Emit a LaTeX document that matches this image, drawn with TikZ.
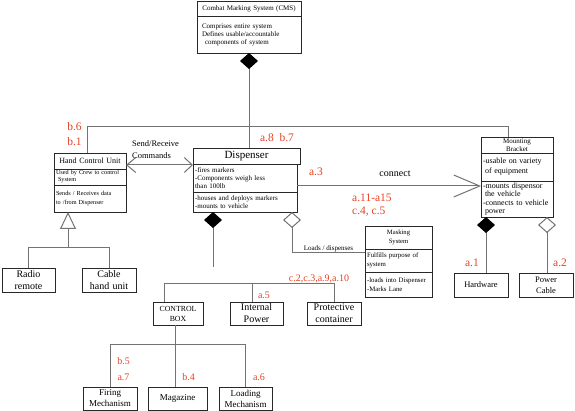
\documentclass[tikz,border=0pt]{standalone}
\usepackage{fontspec}
\setmainfont{Liberation Serif}
\usepackage{tikz}
\usetikzlibrary{shapes.geometric, positioning, arrows.meta}
\definecolor{UmlRed}{RGB}{228,66,36}
\definecolor{UmlLine}{RGB}{115,115,115}
\definecolor{UmlEdge}{RGB}{40,40,40}

\begin{document}
\begin{tikzpicture}[x=1pt, y=-1pt,
            hd/.style={rectangle, draw=UmlEdge, line width=0.9pt, anchor=north west,
                       inner xsep=2pt, inner ysep=0.5pt, outer sep=0pt, align=center,
                       font=\fontsize{7}{8}\selectfont},
            bd/.style={hd, line width=0.7pt, align=left},
            bx/.style={rectangle, draw=UmlEdge, line width=0.7pt, anchor=north west,
                       inner xsep=2pt, inner ysep=0.5pt, outer sep=0pt, align=center,
                       font=\fontsize{9}{11}\selectfont},
            ln/.style={draw=UmlLine, line width=1pt},
            lbl/.style={text=UmlRed, inner sep=0pt, font=\fontsize{11.5}{13}\selectfont},
            sml/.style={text=UmlRed, inner sep=0pt, font=\fontsize{10}{12}\selectfont},
            comp/.style={{Diamond[length=16pt, width=18pt, color=black]}-},
            aggr/.style={{Diamond[open, length=16pt, width=18pt]}-},
            chev/.style={{Straight Barb[length=9pt, width=15pt]}-{Straight Barb[length=8pt, width=15pt]}}
          ]
          \useasboundingbox (0,0) rectangle (575,411);

          % classes
          \node[hd, text width=100pt, minimum height=15pt] (cms1) at (197,1) {Combat Marking System (CMS)};
          \node[bd, text width=100pt, minimum height=37pt] (cms2) at (cms1.south west)
                {\hspace*{3pt}Comprises entire system\\\hspace*{3pt}Defines usable/accountable\\\hspace*{6pt}components of system};

          \node[hd, text width=103pt, minimum height=16pt, font=\fontsize{11}{12}\selectfont]
                (disp1) at (193,148) {Dispenser};
          \node[bd, text width=100pt, minimum height=28pt] (disp2) at (disp1.south west)
                {-fires markers\\-Components weigh less\\than 100lb};
          \node[bd, text width=100pt, minimum height=20pt] (disp3) at (disp2.south west)
                {-houses and deploys markers\\-mounts to vehicle};

          \node[hd, text width=68pt, minimum height=16pt, font=\fontsize{8}{9}\selectfont]
                (hcu1) at (54,153) {Hand Control Unit};
          \node[bd, text width=68pt, minimum height=16pt, font=\fontsize{6.2}{7}\selectfont]
                (hcu2) at (hcu1.south west) {Used by Crew to control\\\hspace*{2pt}System};
          \node[bd, text width=68pt, minimum height=27pt, font=\fontsize{6.2}{9}\selectfont]
                (hcu3) at (hcu2.south west) {Sends / Receives data\\to /from Dispenser};

          \node[hd, text width=63pt, minimum height=23pt, font=\fontsize{6.6}{9}\selectfont]
                (ms1) at (365,226) {Masking\\System};
          \node[bd, text width=63pt, minimum height=23pt, font=\fontsize{6.8}{9}\selectfont]
                (ms2) at (ms1.south west) {Fulfills purpose of\\system};
          \node[bd, text width=63pt, minimum height=25pt, font=\fontsize{6.8}{9}\selectfont]
                (ms3) at (ms2.south west) {-loads into Dispenser\\-Marks Lane};

          \node[hd, text width=68pt, minimum height=16pt, font=\fontsize{7}{8}\selectfont]
                (mb1) at (481,137) {Mounting\\Bracket};
          \node[bd, text width=68pt, minimum height=28pt, font=\fontsize{8}{10}\selectfont]
                (mb2) at (mb1.south west) {-usable on variety\\\hspace*{2pt}of equipment};
          \node[bd, text width=68pt, minimum height=36pt, font=\fontsize{8}{8.2}\selectfont]
                (mb3) at (mb2.south west)
                {-mounts dispensor\\\hspace*{2pt}the vehicle\\-connects to vehicle\\\hspace*{2pt}power};

          % parts
          \node[bx, text width=49pt, minimum height=24pt, font=\fontsize{10}{12}\selectfont]
                (radio) at (2,268) {Radio\\remote};
          \node[bx, text width=50pt, minimum height=24pt, font=\fontsize{10}{12}\selectfont]
                (cable) at (82,268) {Cable\\hand unit};
          \node[bx, text width=46pt, minimum height=23pt, font=\fontsize{7.8}{10}\selectfont]
                (ctrl) at (153,302) {CONTROL\\BOX};
          \node[bx, text width=49pt, minimum height=23pt, font=\fontsize{10}{12}\selectfont]
                (ipow) at (230,302) {Internal\\Power};
          \node[bx, text width=50pt, minimum height=23pt, font=\fontsize{10}{12}\selectfont]
                (prot) at (307,302) {Protective\\container};
          \node[bx, text width=50pt, minimum height=24pt, font=\fontsize{8.5}{11}\selectfont]
                (hw) at (454,273) {Hardware};
          \node[bx, text width=50pt, minimum height=24pt, font=\fontsize{8.5}{11}\selectfont]
                (pc) at (519,273) {Power\\Cable};
          \node[bx, text width=50pt, minimum height=23pt] (fire) at (83,387) {Firing\\Mechanism};
          \node[bx, text width=55pt, minimum height=23pt] (mag) at (148,387) {Magazine};
          \node[bx, text width=49pt, minimum height=23pt] (load) at (219,387) {Loading\\Mechanism};

          % connectors
          \draw[ln] ([xshift=-3pt]hcu1.north) -- ++(0,-26) -| ([xshift=-9pt]mb1.north);
          \draw[ln, comp] (cms2.south) -- (cms2.south |- disp1.north);

          \coordinate (sr) at ([yshift=-4pt]hcu1.east);
          \draw[ln, chev] (sr) -- (sr -| disp1.west);
          \node[anchor=north west, align=left, inner sep=0pt, font=\fontsize{8.5}{12}\selectfont]
                (srtxt) at (132,140) {Send/Receive\\Commands};

          \coordinate (cn) at ([yshift=-8pt]disp2.east);
          \draw[ln, -{Straight Barb[length=26pt, width=22pt]}] (cn) -- (cn -| mb2.west);
          \node[inner sep=0pt, font=\fontsize{10}{12}\selectfont] (cntxt) at (395,174) {connect};

          \coordinate (dc) at ([xshift=-32pt]disp3.south);
          \draw[ln, comp] (dc) -- ++(0,55);
          \draw[ln] ([xshift=-14pt]ctrl.north) -- ++(0,-18) -| (prot.north);
          \draw[ln] ([xshift=-4pt]ipow.north) -- ++(0,-18);

          \coordinate (da) at ([xshift=47pt]disp3.south);
          \coordinate (ml) at ([yshift=7.5pt]ms2.west);
          \draw[ln, aggr] (da) |- (ml)
                node[pos=0.75, above=0pt, inner sep=1pt, font=\fontsize{7}{8}\selectfont] (ldtxt) {Loads / dispenses};

          \coordinate (mc) at ([xshift=-31pt]mb3.south);
          \draw[ln, comp] (mc) -- (mc |- hw.north);
          \coordinate (ma) at ([xshift=30pt]mb3.south);
          \draw[ln, aggr] (ma) -- (ma |- pc.north);

          \coordinate (hg) at ([xshift=-22pt]hcu3.south);
          \draw[ln, {Triangle[open, length=17pt, width=16pt]}-] (hg) -- ++(0,36);
          \draw[ln] (radio.north) -- ++(0,-20) -| (cable.north);

          \coordinate (cb) at ([xshift=-3pt]ctrl.south);
          \draw[ln] (cb) -- (cb |- mag.north);
          \draw[ln] (fire.north) -- ++(0,-43) -| (load.north);

          % requirement tags
          \node[lbl] (tb6) at (74.5,127) {b.6};
          \node[lbl] (tb1) at (74.5,142) {b.1};
          \node[lbl] (ta8) at (277,137.5) {a.8\enspace b.7};
          \node[lbl] (ta3) at (316,172) {a.3};
          \node[lbl, anchor=west] (ta11) at (352,198) {a.11-a15};
          \node[lbl, anchor=west] (tc4) at (352,212) {c.4, c.5};
          \node[sml] (tc2) at (319,279) {c.2,c.3,a.9,a.10};
          \node[sml] (ta5) at (264,295) {a.5};
          \node[sml] (tb5) at (123.5,361) {b.5};
          \node[sml] (ta7) at (123.5,377) {a.7};
          \node[sml] (tb4) at (188.5,377) {b.4};
          \node[sml] (ta6) at (259,377) {a.6};
          \node[lbl] (ta1) at (472,263) {a.1};
          \node[lbl] (ta2) at (560,263) {a.2};
        \end{tikzpicture}
\end{document}
